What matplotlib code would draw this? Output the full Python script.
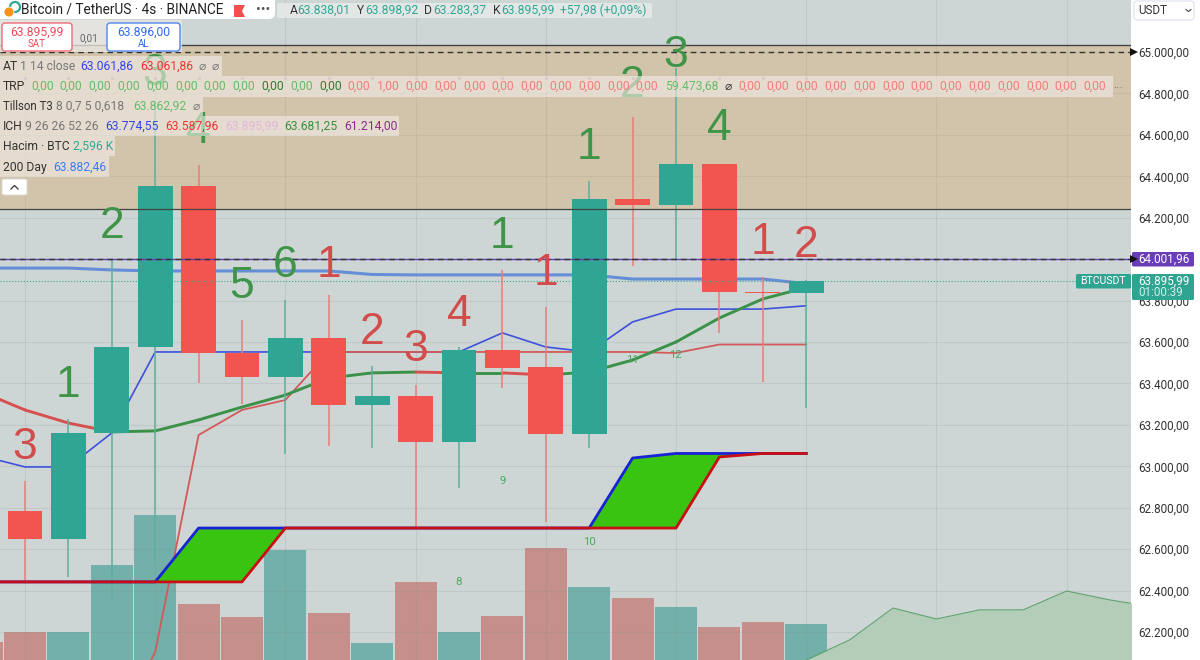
import matplotlib
matplotlib.use('Agg')
import matplotlib.pyplot as plt
from matplotlib.patches import Rectangle, FancyBboxPatch, Circle, Polygon

plt.rcParams['font.family'] = ['Roboto', 'DejaVu Sans']

# candles, one per bar
idx = list(range(19))
opens = [62784, 62649, 63161, 63576, 64353, 63547, 63431, 63619, 63296, 63339, 63117, 63562, 63480, 63156, 64290, 64261, 64459, 63842, 63838]
highs = [62929, 63228, 63996, 64768, 64455, 63706, 63803, 63827, 63484, 63393, 63576, 63948, 63769, 64377, 64686, 64923, 64459, 63914, 63899]
lows = [62437, 62466, 62360, 62538, 63402, 63301, 63060, 63098, 63088, 62707, 62895, 63378, 62731, 63088, 63967, 63996, 63644, 63407, 63283]
closes = [62649, 63161, 63576, 64353, 63547, 63431, 63619, 63296, 63339, 63117, 63562, 63475, 63156, 64290, 64261, 64459, 63842, 63837, 63896]

# volume in K, the first value is the bar before the visible ones
vol_prev = 1.3
volumes = [2.02, 2.02, 6.85, 10.45, 4.04, 3.10, 7.93, 3.39, 1.23, 5.62, 2.02, 3.17, 8.08, 5.26, 4.47, 3.82, 2.38, 2.74, 2.596]

# indicators, index -1 to 18
line_idx = list(range(-1, 19))
t3 = [63359, 63272, 63209, 63166, 63171, 63224, 63286, 63344, 63426, 63451, 63455, 63451, 63451, 63441, 63455, 63513, 63600, 63716, 63808, 63863]
tenkan = [63050, 62997, 62997, 63161, 63552, 63552, 63552, 63552, 63552, 63552, 63552, 63552, 63644, 63576, 63552, 63697, 63759, 63759, 63759, 63775]
day200 = [63957, 63957, 63957, 63948, 63943, 63943, 63943, 63943, 63943, 63926, 63924, 63924, 63924, 63924, 63924, 63904, 63904, 63904, 63904, 63882]
at_up = [62442, 62442, 62442, 62442, 62442, 62702, 62702, 62702, 62702, 62702, 62702, 62702, 62702, 62702, 62702, 63040, 63062, 63062, 63062, 63062]
at_dn = [62442, 62442, 62442, 62442, 62442, 62442, 62442, 62702, 62702, 62702, 62702, 62702, 62702, 62702, 62702, 62702, 62702, 63045, 63062, 63062]

kijun_idx = list(range(2, 19))
kijun = [61698, 62104, 63151, 63272, 63320, 63552, 63552, 63552, 63552, 63552, 63552, 63552, 63552, 63547, 63588, 63588, 63588]

# leading span on the right
span_idx = list(range(18, 27))
span = [62065, 62162, 62316, 62263, 62307, 62307, 62398, 62355, 62321]
trp_dot = 64874

# price levels
box_top = 65034
box_bottom = 64242
level_dash = 65000
level_purple = 64001.96
level_last = 63895.99

# big wave counts
wave_text = ['3', '1', '2', '3', '4', '5', '6', '1', '2', '3', '4', '1', '1', '1', '2', '3', '4', '1', '2']
wave_idx = idx
wave_price = [63090, 63390, 64160, 64895, 64615, 63868, 63968, 63968, 63645, 63563, 63732, 64108, 63930, 64538, 64837, 64982, 64630, 64080, 64065]
wave_kind = ['r', 'g', 'g', 'g', 'g', 'g', 'g', 'r', 'r', 'r', 'r', 'g', 'r', 'g', 'g', 'g', 'g', 'r', 'r']

# small counts
small_text = ['8', '9', '10', '11', '12']
small_idx = [10, 11, 13, 14, 15]
small_price = [62442, 62929, 62635, 63513, 63537]

price_ticks = [62200, 62400, 62600, 62800, 63000, 63200, 63400, 63600, 63800, 64000, 64200, 64400, 64600, 64800, 65000]
grid_bars = [0, 3, 6, 9, 12, 15, 18, 21, 24]

# colours
c_up = '#30a594'
c_dn = '#f2544f'
c_bg = '#cdd6d4'
c_wave_g = '#3f9448'
c_wave_r = '#d24c4c'


def tr(v):
    return f'{v:,.2f}'.replace(',', '#').replace('.', ',').replace('#', '.')


fig = plt.figure(figsize=(12, 6.6), dpi=100, facecolor='white')
rect = [0, 0, 1131 / 1200, 1]
xlim = (-25 / 43.4, 1131 / 43.4 - 25 / 43.4)
ylim = (62065, 65251)

# volume sits under the price panel
ax_vol = fig.add_axes(rect, zorder=1, facecolor=c_bg)
ax_vol.set_xlim(xlim)
ax_vol.set_ylim(0, 47.6)
ax_vol.set_xticks([])
ax_vol.set_yticks([])
for s in ax_vol.spines.values():
    s.set_visible(False)
vol_col = ['#73b0a9' if c >= o else '#c58f8b' for o, c in zip(opens, closes)]
ax_vol.bar(idx, volumes, width=0.97, color=vol_col)
ax_vol.bar([-1], [vol_prev], width=0.97, color='#c58f8b')

ax = fig.add_axes(rect, zorder=2)
ax.patch.set_visible(False)
ax.set_xlim(xlim)
ax.set_ylim(ylim)
for s in ax.spines.values():
    s.set_visible(False)
ax.yaxis.tick_right()
ax.set_yticks(price_ticks)
ax.set_yticklabels([tr(v) for v in price_ticks], fontsize=8.4, color='#333333')
ax.tick_params(axis='y', length=0, pad=5)
ax.set_xticks(grid_bars)
ax.tick_params(axis='x', length=0, labelbottom=False)
ax.set_axisbelow(True)
ax.grid(True, color='#7f8f8d', alpha=0.17, lw=0.8)

ax.axhspan(box_bottom, box_top, color='#d2c4aa', lw=0, zorder=0.2)
ax.fill_between(span_idx, span, ylim[0], color='#b4cdb8', lw=0, zorder=1)
ax.plot(span_idx, span, color='#5fa36e', lw=0.8, zorder=1.1)

# lines under the candles
ax.plot(line_idx, day200, color='#5b86d8', lw=2.2, alpha=0.9, zorder=2)
ax.plot(line_idx, tenkan, color='#3f51dc', lw=1.2, zorder=2.1)
ax.plot(kijun_idx, kijun, color='#d25a5a', lw=1.3, zorder=2.2)
for i in range(len(t3) - 1):
    col = '#3b9147' if t3[i + 1] >= t3[i] else '#d75050'
    ax.plot(line_idx[i:i + 2], t3[i:i + 2], color=col, lw=2.1, solid_capstyle='round', zorder=2.3)

# candles
for i in idx:
    up = closes[i] >= opens[i]
    ax.vlines(i, lows[i], highs[i], color='#5fae9e' if up else '#ec7d78', lw=1.1, zorder=3)
    bottom = min(opens[i], closes[i])
    height = max(abs(closes[i] - opens[i]), 6)
    ax.bar(i, height, bottom=bottom, width=0.8, color=c_up if up else c_dn, zorder=3.1)

# AT band
ax.fill_between(line_idx, at_dn, at_up, where=[u > d for u, d in zip(at_up, at_dn)], interpolate=True, color='#38c411', lw=0, zorder=3.2)
ax.plot(line_idx, at_up, color='#1a22d8', lw=2.0, zorder=3.3)
ax.plot(line_idx, at_dn, color='#c80f14', lw=2.0, zorder=3.4)

# horizontal levels
ax.axhline(box_top, color='#444444', lw=1.0, zorder=4)
ax.axhline(box_bottom, color='#444444', lw=0.9, zorder=4)
ax.axhline(level_dash, color='#333333', lw=1.0, dashes=(4, 3), zorder=4)
ax.axhline(level_purple, color='#6a3db8', lw=1.0, zorder=4)
ax.axhline(level_purple, color='#333333', lw=1.0, dashes=(4, 3), zorder=4.1)
ax.axhline(level_last, color='#3aa795', lw=0.8, ls=':', zorder=4)

# counts
for t, i, p, k in zip(wave_text, wave_idx, wave_price, wave_kind):
    ax.text(i, p, t, ha='center', va='center', fontsize=32, family='Liberation Sans',
            color=c_wave_g if k == 'g' else c_wave_r, zorder=5)
for t, i, p in zip(small_text, small_idx, small_price):
    ax.text(i, p, t, ha='center', va='center', fontsize=8.2, color='#4ea862', zorder=5)
ax.scatter(idx, [trp_dot] * len(idx), s=6, color='#b98fa0', lw=0, zorder=5)

# interface layer in pixels
ui = fig.add_axes([0, 0, 1, 1], zorder=5)
ui.set_xlim(0, 1200)
ui.set_ylim(660, 0)
ui.axis('off')


def box(x0, y0, x1, y1, fc, ec='none', lw=0, alpha=None, r=0):
    if r:
        p = FancyBboxPatch((x0, y0), x1 - x0, y1 - y0, boxstyle=f'round,pad=0,rounding_size={r}',
                           fc=fc, ec=ec, lw=lw, alpha=alpha)
    else:
        p = Rectangle((x0, y0), x1 - x0, y1 - y0, fc=fc, ec=ec, lw=lw, alpha=alpha)
    ui.add_patch(p)


def label(x, y, s, color='#444444', size=8.7, ha='left', **kw):
    ui.text(x, y, s, color=color, fontsize=size, ha=ha, va='center', **kw)


c_gray = '#777777'
c_dark = '#333333'
c_blue = '#3344ee'
c_red = '#f03030'
c_green = '#66bb6a'
c_teal = '#2fa896'

# legend rows
row_bg = '#f1ece7'
for x1, y0, y1 in [(222, 56, 76), (1113, 76, 96.5), (203, 96.5, 116), (399, 116, 136), (115, 136, 156), (109, 156, 177)]:
    box(0, y0, x1, y1, row_bg, alpha=0.62)

label(3, 66, 'AT', c_dark)
label(20, 66, '1 14 close', c_gray)
label(80, 66, '63.061,86', c_blue)
label(140, 66, '63.061,86', c_red)
label(202, 66, '⌀', c_gray, ha='center')
label(215, 66, '⌀', c_gray, ha='center')

label(3, 86, 'TRP', c_dark)
trp_values = ['0,00'] * 12 + ['1,00'] + ['0,00'] * 9
trp_colors = [c_green] * 8 + ['#2e7d32', c_green, '#2e7d32'] + ['#f47c7c'] * 11
for k, (t, c) in enumerate(zip(trp_values, trp_colors)):
    label(31 + k * 28.8, 86, t, c)
label(665, 86, '59.473,68', c_green)
label(728, 86, '⌀', c_dark, ha='center')
for k in range(13):
    label(738 + k * 28.8, 86, '0,00', '#f47c7c')
label(1113, 85, '...', c_gray, ha='left')

label(3, 106, 'Tillson T3', c_dark, 8.3)
label(56, 106, '8 0,7 5 0,618', c_gray)
label(133, 106, '63.862,92', c_green)
label(196, 106, '⌀', c_gray, ha='center')

label(3, 126, 'ICH', c_dark)
label(25, 126, '9 26 26 52 26', c_gray)
label(105, 126, '63.774,55', c_blue)
label(165, 126, '63.587,96', c_red)
label(225, 126, '63.895,99', '#e5b5e0')
label(284, 126, '63.681,25', '#388e3c')
label(344, 126, '61.214,00', '#8e2a8e')

label(3, 146, 'Hacim · BTC', c_dark)
label(73, 146, '2,596 K', c_teal)
label(3, 167, '200 Day', c_dark)
label(53, 167, '63.882,46', '#3d7cf2')

# header
box(-6, -6, 275, 19, 'white', r=6)
box(277, 3, 652, 18, '#e8ecea', alpha=0.8, r=2)
ui.add_patch(Circle((15, 7), 5, fc='none', ec='#2fa896', lw=1.6))
ui.add_patch(Circle((9, 12), 5, fc='#f7931a', ec='white', lw=0.6))
label(21, 10, 'Bitcoin / TetherUS · 4s · BINANCE', '#222222', 9.85)
ui.add_patch(Polygon([(234, 5), (245, 5), (242, 11), (245, 17), (234, 17)], fc='#f2504f', ec='none'))
label(263, 10, '•••', '#555555', 10, ha='center')
for x_key, key, x_val, val in [(290, 'A', 297, '63.838,01'), (357, 'Y', 365, '63.898,92'),
                               (424, 'D', 433, '63.283,37'), (493, 'K', 501, '63.895,99')]:
    label(x_key, 10, key, c_dark)
    label(x_val, 10, val, c_teal)
label(560, 10, '+57,98 (+0,09%)', c_teal)

# buy and sell buttons
box(0, 20, 182, 52, '#ece8e3', alpha=0.75)
box(2, 23, 72, 51, 'white', '#f06a78', 1.0, r=3)
box(107, 23, 180, 51, 'white', '#4f86f0', 1.0, r=3)
label(37, 32, '63.895,99', '#f04a5a', ha='center')
label(37, 44, 'SAT', '#f04a5a', 7, ha='center')
label(143.5, 32, '63.896,00', '#2f6bf0', ha='center')
label(143.5, 44, 'AL', '#2f6bf0', 7, ha='center')
label(89, 38, '0,01', '#666666', 7.2, ha='center')

# collapse button
box(2, 179, 27, 195, 'white', '#d8d8d8', 0.6, r=2)
ui.plot([11, 14.5, 18], [189, 185.5, 189], color='#333333', lw=0.9)

# right scale
box(1134, 1, 1194, 20, 'white', '#dde2ee', 0.8, r=3)
label(1138, 10.5, 'USDT', c_dark, 8.4)
ui.plot([1186, 1188.5, 1191], [9.5, 11.5, 9.5], color='#444444', lw=0.8)
box(1132, 252, 1194, 266.5, '#6a3db8', r=1.5)
label(1138, 259.5, '64.001,96', 'white', 8.4)
box(1076, 274, 1131, 288.5, '#2fa491', r=1.5)
label(1080, 281.5, 'BTCUSDT', 'white', 7.6)
box(1132, 274, 1194, 300, '#2fa491', r=1.5)
label(1138, 281.5, '63.895,99', 'white', 8.4)
label(1138, 292.5, '01:00:39', '#d5eee9', 8.4)
for yy in (52, 259):
    ui.plot(1133.5, yy, marker='>', color='#111111', ms=5.5, mew=0)

fig.savefig('out.png', dpi=100)
